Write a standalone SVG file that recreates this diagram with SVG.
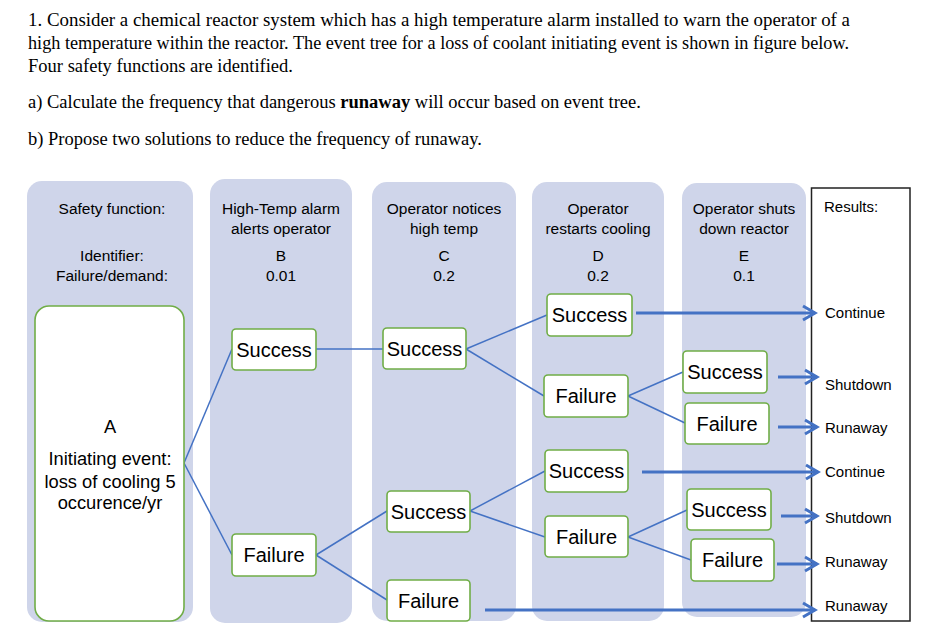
<svg xmlns="http://www.w3.org/2000/svg" width="938" height="640" viewBox="0 0 938 640">
<defs>
<style>
.q{font-family:"Liberation Serif","Times New Roman",serif;font-size:18.5px;fill:#000}
.col{fill:#CFD5EA}
.h{font-family:"Liberation Sans",Arial,sans-serif;font-size:15.5px;fill:#000;text-anchor:middle}
.r{font-family:"Liberation Sans",Arial,sans-serif;font-size:15px;fill:#000}
.box{fill:#fff;stroke:#70AD47;stroke-width:1.6}
.bt{font-family:"Liberation Sans",Arial,sans-serif;font-size:20px;fill:#000;text-anchor:middle}
.at{font-family:"Liberation Sans",Arial,sans-serif;font-size:18.3px;fill:#000;text-anchor:middle}
.ln{fill:none;stroke:#4472C4;stroke-width:1.5}
.ar{fill:none;stroke:#4472C4;stroke-width:3;marker-end:url(#ah)}
</style>
<marker id="ah" markerUnits="userSpaceOnUse" markerWidth="18" markerHeight="20" viewBox="0 0 18 20" refX="15" refY="10" orient="auto">
<path d="M3,3 L15,10 L3,17" fill="none" stroke="#4472C4" stroke-width="3"/>
</marker>
</defs>
<rect width="938" height="640" fill="#fff"/>
<g id="question">
<text class="q" x="28" y="25.5" textLength="822" lengthAdjust="spacingAndGlyphs">1. Consider a chemical reactor system which has a high temperature alarm installed to warn the operator of a</text>
<text class="q" x="28" y="48.5" textLength="821" lengthAdjust="spacingAndGlyphs">high temperature within the reactor. The event tree for a loss of coolant initiating event is shown in figure below.</text>
<text class="q" x="28" y="71.5" textLength="265" lengthAdjust="spacingAndGlyphs">Four safety functions are identified.</text>
<text class="q" x="28" y="108">a) Calculate the frequency that dangerous <tspan font-weight="bold">runaway</tspan> will occur based on event tree.</text>
<text class="q" x="28" y="145">b) Propose two solutions to reduce the frequency of runaway.</text>
</g>
<g id="columns">
<g id="col-a"><rect class="col" x="27" y="181" width="166" height="441" rx="15"/>
<text class="h" x="112" y="214">Safety function:</text>
<text class="h" x="112" y="261">Identifier:</text>
<text class="h" x="112" y="281">Failure/demand:</text></g>
<g id="col-b"><rect class="col" x="210" y="179" width="142" height="444" rx="15"/>
<text class="h" x="281" y="214">High-Temp alarm</text>
<text class="h" x="281" y="234">alerts operator</text>
<text class="h" x="281" y="261">B</text>
<text class="h" x="281" y="281">0.01</text></g>
<g id="col-c"><rect class="col" x="372" y="182" width="144" height="439" rx="15"/>
<text class="h" x="444" y="214">Operator notices</text>
<text class="h" x="444" y="234">high temp</text>
<text class="h" x="444" y="261">C</text>
<text class="h" x="444" y="281">0.2</text></g>
<g id="col-d"><rect class="col" x="532" y="182" width="132" height="439" rx="15"/>
<text class="h" x="598" y="214">Operator</text>
<text class="h" x="598" y="234">restarts cooling</text>
<text class="h" x="598" y="261">D</text>
<text class="h" x="598" y="281">0.2</text></g>
<g id="col-e"><rect class="col" x="682" y="183" width="124" height="434" rx="15"/>
<text class="h" x="744" y="214">Operator shuts</text>
<text class="h" x="744" y="234">down reactor</text>
<text class="h" x="744" y="261">E</text>
<text class="h" x="744" y="281">0.1</text></g>
<g id="results"><rect x="811.5" y="188" width="98.5" height="433" fill="#fff" stroke="#222" stroke-width="1.5"/>
<text class="r" x="824" y="212">Results:</text>
<text class="r" x="825" y="318">Continue</text>
<text class="r" x="825" y="390">Shutdown</text>
<text class="r" x="825" y="433">Runaway</text>
<text class="r" x="825" y="477">Continue</text>
<text class="r" x="825" y="523">Shutdown</text>
<text class="r" x="825" y="567">Runaway</text>
<text class="r" x="825" y="611">Runaway</text></g>
</g>
<g id="connectors">
<path class="ln" d="M184,463 L232,349"/>
<path class="ln" d="M184,463 L232,555"/>
<path class="ln" d="M316,349 L383,349"/>
<path class="ln" d="M316,555 L387,511"/>
<path class="ln" d="M316,555 L387,600"/>
<path class="ln" d="M466,349 L547,315"/>
<path class="ln" d="M466,349 L544,396"/>
<path class="ln" d="M628,396 L683,372"/>
<path class="ln" d="M628,396 L685,423"/>
<path class="ln" d="M470,511 L545,471"/>
<path class="ln" d="M470,511 L545,537"/>
<path class="ln" d="M628,537 L687,510"/>
<path class="ln" d="M628,537 L691,560"/>
<path class="ar" d="M636,313 L815,313"/>
<path class="ar" d="M778,377 L817,377"/>
<path class="ar" d="M778,427 L817,427"/>
<path class="ar" d="M642,472 L818,472"/>
<path class="ar" d="M781,516 L817,516"/>
<path class="ar" d="M777,564 L817,564"/>
<path class="ar" d="M485,610 L815,610"/>
</g>
<g id="node-a"><rect class="box" x="35" y="306" width="149" height="315" rx="14"/>
<text class="at" x="110" y="433" font-size="19.5">A</text>
<text class="at" x="110" y="465">Initiating event:</text>
<text class="at" x="110" y="488">loss of cooling 5</text>
<text class="at" x="110" y="509">occurence/yr</text></g>
<g id="node-b-success"><rect class="box" x="232" y="329" width="84" height="41" rx="4"/><text class="bt" x="274" y="356.5">Success</text></g>
<g id="node-b-failure"><rect class="box" x="232" y="534" width="84" height="42" rx="4"/><text class="bt" x="274" y="562">Failure</text></g>
<g id="node-c-success-1"><rect class="box" x="383" y="328" width="83" height="41" rx="4"/><text class="bt" x="424.5" y="355.5">Success</text></g>
<g id="node-c-success-2"><rect class="box" x="387" y="491" width="83" height="41" rx="4"/><text class="bt" x="428.5" y="518.5">Success</text></g>
<g id="node-c-failure"><rect class="box" x="387" y="580" width="83" height="41" rx="4"/><text class="bt" x="428.5" y="607.5">Failure</text></g>
<g id="node-d-success-1"><rect class="box" x="547" y="294" width="85" height="42" rx="4"/><text class="bt" x="589.5" y="322">Success</text></g>
<g id="node-d-failure-1"><rect class="box" x="544" y="375" width="84" height="42" rx="4"/><text class="bt" x="586" y="403">Failure</text></g>
<g id="node-d-success-2"><rect class="box" x="545" y="450" width="83" height="42" rx="4"/><text class="bt" x="586.5" y="478">Success</text></g>
<g id="node-d-failure-2"><rect class="box" x="545" y="516" width="83" height="41" rx="4"/><text class="bt" x="586.5" y="543.5">Failure</text></g>
<g id="node-e-success-1"><rect class="box" x="683" y="351" width="84" height="42" rx="4"/><text class="bt" x="725" y="379">Success</text></g>
<g id="node-e-failure-1"><rect class="box" x="685" y="403" width="84" height="41" rx="4"/><text class="bt" x="727" y="430.5">Failure</text></g>
<g id="node-e-success-2"><rect class="box" x="687" y="489" width="84" height="41" rx="4"/><text class="bt" x="729" y="516.5">Success</text></g>
<g id="node-e-failure-2"><rect class="box" x="691" y="539" width="83" height="42" rx="4"/><text class="bt" x="732.5" y="567">Failure</text></g>
</svg>
